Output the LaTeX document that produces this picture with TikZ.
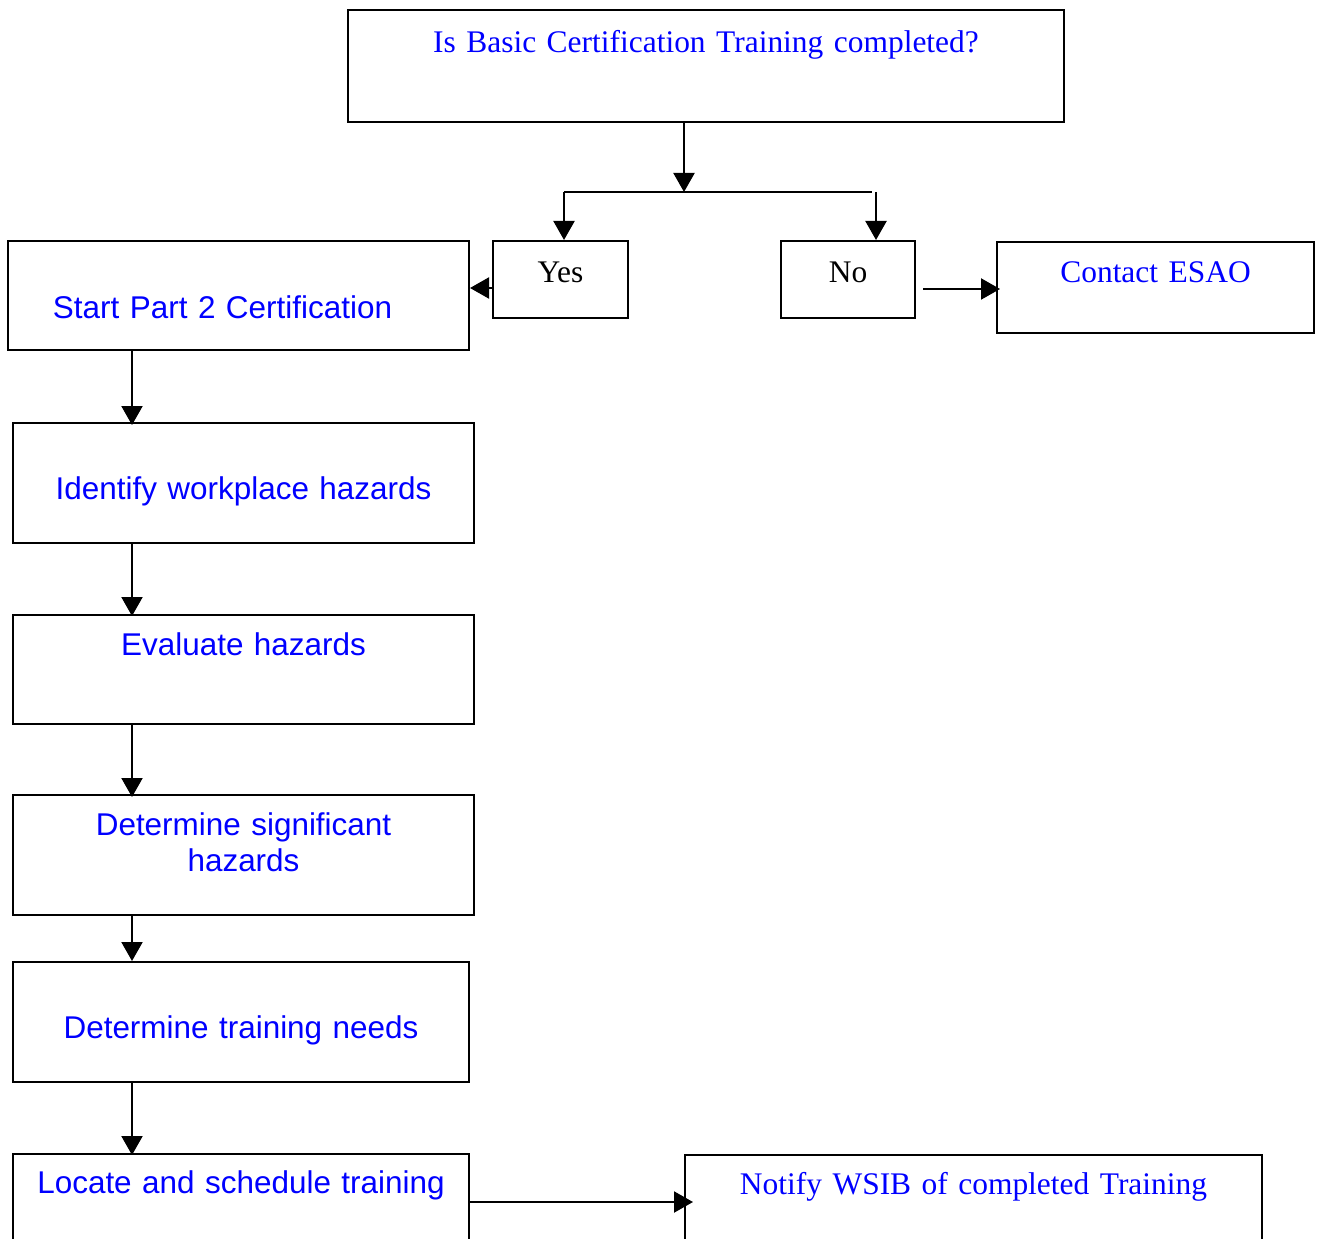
\documentclass[tikz,border=0pt]{standalone}
\usepackage{fontspec}
\setmainfont{Liberation Serif}
\setsansfont{Liberation Sans}
\usetikzlibrary{arrows.meta}
\definecolor{txtblue}{RGB}{0,0,255}
\tikzset{
  fbox/.style={draw=black, line width=1.2pt, inner sep=0pt, anchor=north west, align=center,
    font=\fontsize{17.9}{21}\selectfont},
  serifbox/.style={fbox, font=\fontsize{17.9}{21}\selectfont\rmfamily},
  sansbox/.style={fbox, font=\fontsize{17.9}{21}\selectfont\sffamily, text=txtblue},
  arr/.style={line width=1.2pt, -{Triangle[length=0.38cm, width=0.42cm]}},
  plain/.style={line width=1.2pt}
}
\begin{document}
\begin{tikzpicture}[x=0.02cm, y=-0.02cm]
\useasboundingbox (0,0) rectangle (1317,1239);
\clip (0,0) rectangle (1317,1239);
% boxes: anchor north west at (left,top); text width = width; text height = baseline-top; text depth = bottom-baseline
\node[serifbox, text=txtblue, text width=14.32cm, text height=0.84cm, text depth=1.40cm] (q) at (347,9) {Is Basic Certification Training completed?};
\node[serifbox, text=black, text width=2.70cm, text height=0.82cm, text depth=0.72cm] (yes) at (492,240) {Yes};
\node[serifbox, text=black, text width=2.68cm, text height=0.82cm, text depth=0.72cm] (no) at (780,240) {No};
\node[serifbox, text=txtblue, text width=6.34cm, text height=0.80cm, text depth=1.02cm] (esao) at (996,241) {Contact ESAO};
\node[sansbox, text width=9.22cm, text height=1.54cm, text depth=0.64cm] (start) at (7,240) {\hspace*{-0.64cm}Start Part 2 Certification};
\node[sansbox, text width=9.22cm, text height=1.52cm, text depth=0.88cm] (ident) at (12,422) {Identify workplace hazards};
\node[sansbox, text width=9.22cm, text height=0.80cm, text depth=1.38cm] (eval) at (12,614) {Evaluate hazards};
\node[sansbox, text width=9.22cm, text height=0.80cm, text depth=1.60cm] (detsig) at (12,794) {Determine significant\\hazards};
\node[sansbox, text width=9.12cm, text height=1.52cm, text depth=0.88cm] (detneed) at (12,961) {Determine training needs};
\node[sansbox, text width=9.12cm, text height=0.78cm, text depth=1.56cm] (locate) at (12,1153) {Locate and schedule training};
\node[serifbox, text=txtblue, text width=11.54cm, text height=0.78cm, text depth=1.54cm] (notify) at (684,1154) {Notify WSIB of completed Training};
% helper coordinates
\coordinate (split) at (684,192);
\coordinate (sy) at (564,192);
\coordinate (snend) at (872,192);
\coordinate (sn) at (876,192);
\coordinate (ya) at (0,288);
\coordinate (nstart) at (923,289);
\coordinate (col) at (132,0);
\coordinate (ly) at (0,1202);
% connectors
\draw[arr] (q.south -| split) -- (split);
\draw[plain] (sy) -- (snend);
\draw[arr] (sy) -- (yes.north -| sy);
\draw[arr] (sn) -- (no.north -| sn);
\draw[arr] (yes.west |- ya) -- (start.east |- ya);
\draw[arr] (nstart) -- ([xshift=0.08cm]esao.west |- nstart);
\draw[arr] (start.south -| col) -- ([yshift=-0.06cm]ident.north -| col);
\draw[arr] (ident.south -| col) -- ([yshift=-0.04cm]eval.north -| col);
\draw[arr] (eval.south -| col) -- ([yshift=-0.06cm]detsig.north -| col);
\draw[arr] (detsig.south -| col) -- (detneed.north -| col);
\draw[arr] (detneed.south -| col) -- ([yshift=-0.04cm]locate.north -| col);
\draw[arr] (locate.east |- ly) -- ([xshift=0.18cm]notify.west |- ly);
\end{tikzpicture}
\end{document}
